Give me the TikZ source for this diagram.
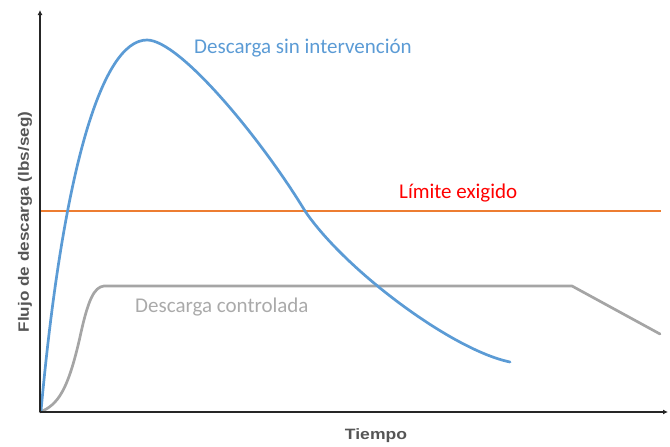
\documentclass[tikz,border=0pt]{standalone}
\usepackage{fontspec}
\setmainfont{Carlito}
\newfontfamily\axisfont{Liberation Sans}
\usetikzlibrary{arrows.meta}
\definecolor{cblue}{RGB}{91,155,213}
\definecolor{corange}{RGB}{237,125,49}
\definecolor{cgray}{RGB}{165,165,165}
\definecolor{ctext}{RGB}{170,170,170}
\definecolor{caxis}{RGB}{85,85,85}
\tikzset{
  axis/.style={line width=1.6pt, black!85, -{Latex[length=5pt,width=5pt]}},
  curve/.style={line width=2.7pt, line join=round, line cap=round},
  lbl/.style={font=\fontsize{21}{24}\selectfont, inner sep=0pt, anchor=base west},
  axlbl/.style={font=\axisfont\bfseries\fontsize{15}{18}\selectfont, text=caxis, inner sep=0pt}
}
\begin{document}
\begin{tikzpicture}[x=1pt,y=-1pt]
\useasboundingbox (0,0) rectangle (670,447);
\coordinate (O) at (40,412);
\coordinate (ytop) at (40,10);
\coordinate (xend) at (668,412);
% limit line
\coordinate (L1) at (40,211);
\coordinate (L2) at (661,211);
\draw[corange, line width=2pt] (L1) -- (L2);
% controlled discharge
\draw[cgray, curve] (O) .. controls (58,405) and (68,390) .. (80,337)
  .. controls (88,300) and (94,287) .. (104,286) -- (572,286) -- (660,334);
% uncontrolled discharge
\coordinate (peak) at (147,40);
\coordinate (X1) at (305,211);
\coordinate (bend) at (510,362);
\draw[cblue, curve] (41,411) .. controls (62,180) and (100,40) .. (peak)
  .. controls (180,40) and (262,140) .. (X1)
  .. controls (345,270) and (452,350) .. (bend);
% axes
\draw[axis] (O) -- (ytop);
\draw[axis] (O) -- (xend);
% labels
\node[lbl, text=cblue] (t1) at (194,53) {Descarga sin intervención};
\node[lbl, text=red] (t2) at (399,198) {Límite exigido};
\node[lbl, text=ctext] (t3) at (135,312) {Descarga controlada};
\node[axlbl] (tx) at (376,436) {\scalebox{1.17}[1]{Tiempo}};
\node[axlbl, rotate=90] (ty) at (25,222) {\scalebox{1.14}[1]{Flujo de descarga (lbs/seg)}};
\end{tikzpicture}
\end{document}
